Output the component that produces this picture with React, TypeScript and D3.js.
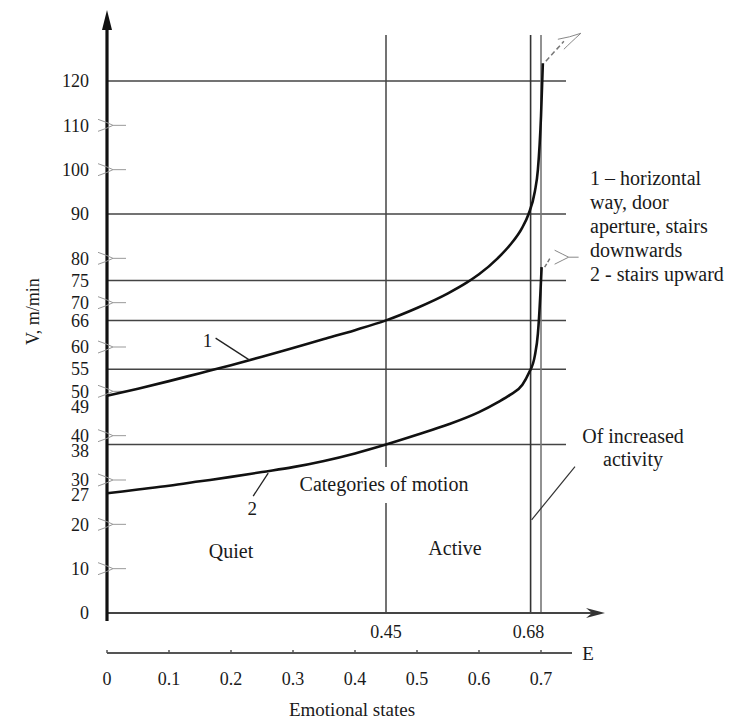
import { useEffect, useRef } from 'react';
import * as d3 from 'd3';

// Speed scale ticks (V, m/min)
const vTicks = [0, 10, 20, 27, 30, 38, 40, 49, 50, 55, 60, 66, 70, 75, 80, 90, 100, 110, 120];
const vGrid = [120, 90, 75, 66, 55, 38];
const vMarkers = [10, 20, 30, 40, 50, 60, 70, 80, 100, 110];

// Emotional state ticks
const eTicks = [0, 0.1, 0.2, 0.3, 0.4, 0.5, 0.6, 0.7];
const eBounds = [0.45, 0.68];

// Curve 1 - horizontal way, door aperture, stairs downwards
const e1 = [0, 0.05, 0.1, 0.15, 0.2, 0.25, 0.3, 0.35, 0.4, 0.45, 0.5, 0.55, 0.58, 0.6, 0.63, 0.65, 0.67, 0.68, 0.69, 0.695, 0.7, 0.703];
const v1 = [49, 50.6, 52.3, 54.1, 55.9, 57.8, 59.8, 61.8, 63.8, 66, 68.8, 72.1, 74.5, 76.4, 80, 83, 87, 90, 95, 100, 112, 124];

// Curve 2 - stairs upward
const e2 = [0, 0.05, 0.1, 0.15, 0.2, 0.25, 0.3, 0.35, 0.4, 0.45, 0.5, 0.55, 0.6, 0.63, 0.65, 0.67, 0.68, 0.69, 0.695, 0.699, 0.701];
const v2 = [27, 27.85, 28.7, 29.7, 30.7, 31.8, 32.9, 34.3, 36, 38, 40.2, 42.5, 45.3, 47.5, 49.2, 51.5, 54, 58, 63, 72, 78];

const legendLines = ['1 – horizontal', 'way, door', 'aperture, stairs', 'downwards', '2 - stairs upward'];

export default function App() {
  const svgRef = useRef<SVGSVGElement | null>(null);

  useEffect(() => {
    if (!svgRef.current) return;
    document.body.style.margin = '0';
    const svg = d3.select(svgRef.current);
    svg.selectAll('*').remove();

    const font = '"Liberation Serif", "Times New Roman", serif';
    const ink = '#1a1a1a';
    const grid = '#444';

    const x = d3.scaleLinear().domain([0, 0.7]).range([107, 541]);
    const y = d3.scaleLinear().domain([0, 120]).range([613, 81]);

    const g = svg.append('g');

    // horizontal grid lines
    g.selectAll('.hgrid')
      .data(vGrid)
      .enter()
      .append('line')
      .attr('x1', x(0))
      .attr('x2', 566)
      .attr('y1', d => y(d))
      .attr('y2', d => y(d))
      .attr('stroke', grid)
      .attr('stroke-width', 1.5);

    // vertical boundary at 0.45 (broken around the caption)
    const capTop = y(0) - 146;
    const capBot = y(0) - 110;
    g.append('line')
      .attr('x1', x(0.45)).attr('x2', x(0.45))
      .attr('y1', 35).attr('y2', capTop)
      .attr('stroke', grid).attr('stroke-width', 1.5);
    g.append('line')
      .attr('x1', x(0.45)).attr('x2', x(0.45))
      .attr('y1', capBot).attr('y2', y(0))
      .attr('stroke', grid).attr('stroke-width', 1.5);

    // boundaries at 0.68 and 0.70
    g.append('line')
      .attr('x1', x(0.68) + 2).attr('x2', x(0.68) + 2)
      .attr('y1', 35).attr('y2', y(0))
      .attr('stroke', '#333').attr('stroke-width', 1.6);
    g.append('line')
      .attr('x1', x(0.7)).attr('x2', x(0.7))
      .attr('y1', 35).attr('y2', y(0))
      .attr('stroke', '#777').attr('stroke-width', 1.6);

    // E axis (zero line) with arrow
    g.append('line')
      .attr('x1', x(0)).attr('x2', 600)
      .attr('y1', y(0)).attr('y2', y(0))
      .attr('stroke', '#444').attr('stroke-width', 1.8);
    g.append('path')
      .attr('d', `M605,${y(0)} L586,${y(0) - 5} L592,${y(0)} L586,${y(0) + 5} Z`)
      .attr('fill', '#333');

    // V axis with arrow
    g.append('line')
      .attr('x1', x(0)).attr('x2', x(0))
      .attr('y1', y(0) + 8).attr('y2', 26)
      .attr('stroke', '#111').attr('stroke-width', 3.2);
    g.append('path')
      .attr('d', `M${x(0)},10 L${x(0) - 5},30 L${x(0) + 5},30 Z`)
      .attr('fill', '#111');

    // small arrow-like markers on ticks without grid lines
    g.selectAll('.marker')
      .data(vMarkers)
      .enter()
      .append('path')
      .attr('d', d => {
        const yy = y(d);
        const ax = x(0);
        return `M${ax - 9},${yy - 6} Q${ax},${yy - 3} ${ax + 6},${yy} Q${ax},${yy + 3} ${ax - 9},${yy + 6} M${ax + 6},${yy} L${ax + 19},${yy}`;
      })
      .attr('fill', 'none')
      .attr('stroke', '#999')
      .attr('stroke-width', 1);

    // V tick labels, pushed apart where they crowd
    const labelY = vTicks.map(v => ({ v, py: y(v) }));
    labelY.sort((a, b) => b.v - a.v);
    for (let i = 1; i < labelY.length; i++) {
      if (labelY[i].py - labelY[i - 1].py < 15) labelY[i].py = labelY[i - 1].py + 15;
    }
    g.selectAll('.vlabel')
      .data(labelY)
      .enter()
      .append('text')
      .attr('x', 89)
      .attr('y', d => d.py)
      .attr('dy', '0.35em')
      .attr('text-anchor', 'end')
      .style('font-family', font)
      .style('font-size', '18px')
      .style('fill', ink)
      .text(d => d.v);

    g.append('text')
      .attr('transform', `translate(39,${y(68)}) rotate(-90)`)
      .attr('text-anchor', 'middle')
      .style('font-family', font)
      .style('font-size', '18px')
      .style('fill', ink)
      .text('V, m/min');

    // curves
    const line = d3.line<[number, number]>()
      .x(d => x(d[0]))
      .y(d => y(d[1]))
      .curve(d3.curveMonotoneX);
    const pts1 = e1.map((e, i) => [e, v1[i]] as [number, number]);
    const pts2 = e2.map((e, i) => [e, v2[i]] as [number, number]);
    [pts1, pts2].forEach(pts => {
      g.append('path')
        .attr('d', line(pts))
        .attr('fill', 'none')
        .attr('stroke', '#111')
        .attr('stroke-width', 2.6);
    });

    // dashed continuations at the top of each curve
    const end1 = pts1[pts1.length - 1];
    const end2 = pts2[pts2.length - 1];
    const ex1 = x(end1[0]) + 1, ey1 = y(end1[1]);
    g.append('path')
      .attr('d', `M${ex1 + 2},${ey1 - 2} L${ex1 + 20},${ey1 - 22}`)
      .attr('stroke', '#777').attr('stroke-width', 1.5).attr('stroke-dasharray', '5,3').attr('fill', 'none');
    g.append('path')
      .attr('d', `M${ex1 + 14},${ey1 - 24} Q${ex1 + 26},${ey1 - 26} ${ex1 + 37},${ey1 - 30} Q${ex1 + 26},${ey1 - 20} ${ex1 + 20},${ey1 - 14}`)
      .attr('stroke', '#888').attr('stroke-width', 1).attr('fill', 'none');
    const ex2 = x(end2[0]) + 1, ey2 = y(end2[1]);
    g.append('path')
      .attr('d', `M${ex2 + 2},${ey2} L${ex2 + 8},${ey2 - 10}`)
      .attr('stroke', '#777').attr('stroke-width', 1.5).attr('stroke-dasharray', '4,2').attr('fill', 'none');
    g.append('path')
      .attr('d', `M${ex2 + 12},${ey2 - 17} Q${ex2 + 20},${ey2 - 13} ${ex2 + 26},${ey2 - 10} Q${ex2 + 20},${ey2 - 7} ${ex2 + 12},${ey2 - 3} M${ex2 + 26},${ey2 - 10} L${ex2 + 36},${ey2 - 10}`)
      .attr('stroke', '#888').attr('stroke-width', 1).attr('fill', 'none');

    // curve callouts
    const at = (es: number[], vs: number[], e: number) => d3.scaleLinear().domain(es).range(vs)(e);
    const a1x = x(0.23), a1y = y(at(e1, v1, 0.23));
    g.append('line')
      .attr('x1', a1x).attr('y1', a1y).attr('x2', a1x - 34).attr('y2', a1y - 22)
      .attr('stroke', '#222').attr('stroke-width', 1.3);
    g.append('text')
      .attr('x', a1x - 42).attr('y', a1y - 13)
      .attr('text-anchor', 'middle')
      .style('font-family', font).style('font-size', '19px').style('fill', ink)
      .text('1');
    const a2x = x(0.26), a2y = y(at(e2, v2, 0.26));
    g.append('line')
      .attr('x1', a2x).attr('y1', a2y + 2).attr('x2', a2x - 15).attr('y2', a2y + 25)
      .attr('stroke', '#222').attr('stroke-width', 1.3);
    g.append('text')
      .attr('x', a2x - 16).attr('y', a2y + 44)
      .attr('text-anchor', 'middle')
      .style('font-family', font).style('font-size', '19px').style('fill', ink)
      .text('2');

    // region captions
    const caption = (tx: number, ty: number, s: string, anchor = 'middle', size = 20) =>
      g.append('text')
        .attr('x', tx).attr('y', ty)
        .attr('text-anchor', anchor)
        .style('font-family', font).style('font-size', `${size}px`).style('fill', ink)
        .text(s);
    caption(x(0.45) - 2, 491, 'Categories of motion');
    caption(231, 558, 'Quiet');
    caption(455, 555, 'Active');

    // increased activity callout
    g.append('line')
      .attr('x1', x(0.68) + 3).attr('y1', y(21))
      .attr('x2', 575).attr('y2', y(33))
      .attr('stroke', '#333').attr('stroke-width', 1.2);
    caption(633, 443, 'Of increased');
    caption(633, 466, 'activity');

    // legend
    legendLines.forEach((s, i) => caption(590, 185 + i * 24, s, 'start'));

    // 0.45 / 0.68 labels under the zero line
    g.selectAll('.bound')
      .data(eBounds)
      .enter()
      .append('text')
      .attr('x', d => x(d))
      .attr('y', 638)
      .attr('text-anchor', 'middle')
      .style('font-family', font).style('font-size', '18px').style('fill', ink)
      .text(d => d);

    // Emotional states scale
    const ax = g.append('g').attr('transform', 'translate(0,653)');
    ax.append('line')
      .attr('x1', x(0)).attr('x2', 572)
      .attr('stroke', '#555').attr('stroke-width', 1.8);
    ax.selectAll('.etick')
      .data(eTicks)
      .enter()
      .append('line')
      .attr('x1', d => x(d)).attr('x2', d => x(d))
      .attr('y1', 0).attr('y2', -3)
      .attr('stroke', '#555').attr('stroke-width', 1.5);
    ax.selectAll('.elabel')
      .data(eTicks)
      .enter()
      .append('text')
      .attr('x', d => x(d))
      .attr('y', 32)
      .attr('text-anchor', 'middle')
      .style('font-family', font).style('font-size', '18px').style('fill', ink)
      .text(d => d);
    caption(588, 660, 'E', 'middle', 19);
    caption(352, 716, 'Emotional states', 'middle', 19);
  }, []);

  return <svg ref={svgRef} width={734} height={720} style={{ display: 'block', background: '#fff' }} />;
}
